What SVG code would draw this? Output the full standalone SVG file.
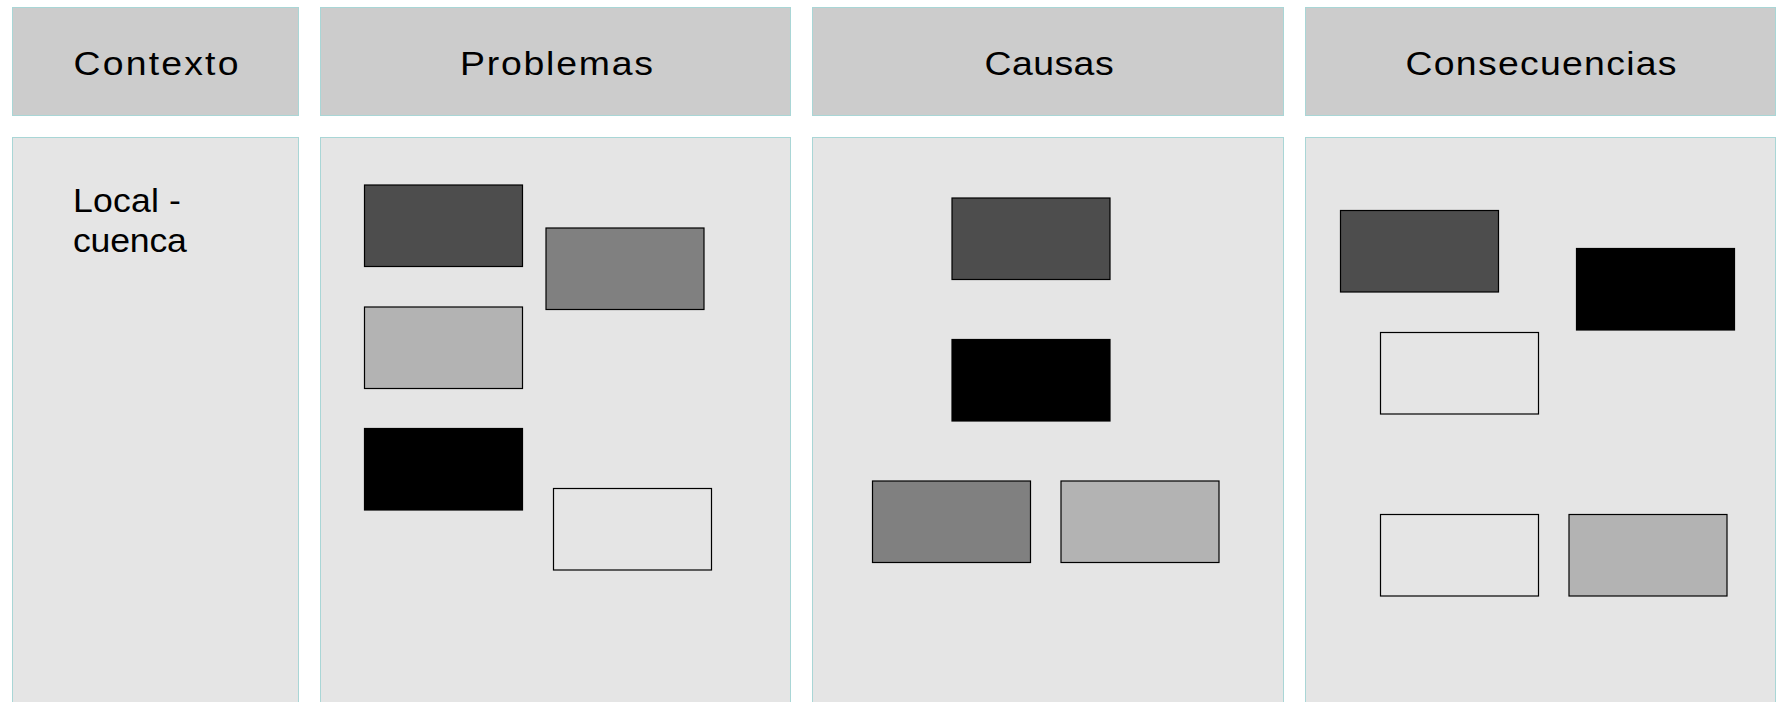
<svg xmlns="http://www.w3.org/2000/svg" width="1778" height="702" viewBox="0 0 1778 702">
  <style>
    .hdr { fill: #cccccc; stroke: #a9d6d6; stroke-width: 1; }
    .body { fill: #e5e5e5; stroke: #a9d6d6; stroke-width: 1; }
    .htxt { font-family: "Liberation Sans", Arial, sans-serif; font-size: 34px; fill: #000000; text-anchor: middle; }
    .btxt { font-family: "Liberation Sans", Arial, sans-serif; font-size: 33px; fill: #000000; }
    .card { stroke: #000000; stroke-width: 1.2; }
    .c1 { fill: #4d4d4d; }
    .c2 { fill: #808080; }
    .c3 { fill: #b3b3b3; }
    .c4 { fill: #000000; }
    .c5 { fill: #e5e5e5; }
  </style>
  <rect x="0" y="0" width="1778" height="702" fill="#ffffff"/>

  <g id="col-contexto">
    <rect class="hdr" x="12.5" y="7.5" width="286" height="108"/>
    <text class="htxt" transform="translate(156 74.5) scale(1.1 1)" x="0" y="0" textLength="150" lengthAdjust="spacing">Contexto</text>
    <rect class="body" x="12.5" y="137.5" width="286" height="580"/>
    <text class="btxt" transform="translate(73 212) scale(1.08 1)" x="0" y="0" textLength="100" lengthAdjust="spacing">Local -</text>
    <text class="btxt" transform="translate(73 252) scale(1.08 1)" x="0" y="0" textLength="105.5" lengthAdjust="spacing">cuenca</text>
  </g>

  <g id="col-problemas">
    <rect class="hdr" x="320.5" y="7.5" width="470" height="108"/>
    <text class="htxt" transform="translate(556.5 74.5) scale(1.1 1)" x="0" y="0" textLength="175.5" lengthAdjust="spacing">Problemas</text>
    <rect class="body" x="320.5" y="137.5" width="470" height="580"/>
  </g>

  <g id="col-causas">
    <rect class="hdr" x="812.5" y="7.5" width="471" height="108"/>
    <text class="htxt" transform="translate(1049 74.5) scale(1.1 1)" x="0" y="0" textLength="117.5" lengthAdjust="spacing">Causas</text>
    <rect class="body" x="812.5" y="137.5" width="471" height="580"/>
  </g>

  <g id="col-consecuencias">
    <rect class="hdr" x="1305.5" y="7.5" width="470" height="108"/>
    <text class="htxt" transform="translate(1541 74.5) scale(1.1 1)" x="0" y="0" textLength="246.5" lengthAdjust="spacing">Consecuencias</text>
    <rect class="body" x="1305.5" y="137.5" width="470" height="580"/>
  </g>

  <g id="problemas-cards">
    <rect id="p1" class="card c1" x="364.5" y="185" width="158" height="81.5"/>
    <rect id="p2" class="card c2" x="546" y="228" width="158" height="81.5"/>
    <rect id="p3" class="card c3" x="364.5" y="307" width="158" height="81.5"/>
    <rect id="p4" class="card c4" x="364.5" y="428.5" width="158" height="81.5"/>
    <rect id="p5" class="card c5" x="553.5" y="488.5" width="158" height="81.5"/>
  </g>

  <g id="causas-cards">
    <rect id="k1" class="card c1" x="952" y="198" width="158" height="81.5"/>
    <rect id="k2" class="card c4" x="952" y="339.5" width="158" height="81.5"/>
    <rect id="k3" class="card c2" x="872.5" y="481" width="158" height="81.5"/>
    <rect id="k4" class="card c3" x="1061" y="481" width="158" height="81.5"/>
  </g>

  <g id="consecuencias-cards">
    <rect id="q1" class="card c1" x="1340.5" y="210.5" width="158" height="81.5"/>
    <rect id="q2" class="card c4" x="1576.5" y="248.5" width="158" height="81.5"/>
    <rect id="q3" class="card c5" x="1380.5" y="332.5" width="158" height="81.5"/>
    <rect id="q4" class="card c5" x="1380.5" y="514.5" width="158" height="81.5"/>
    <rect id="q5" class="card c3" x="1569" y="514.5" width="158" height="81.5"/>
  </g>

  <g id="connectors"></g>
</svg>
